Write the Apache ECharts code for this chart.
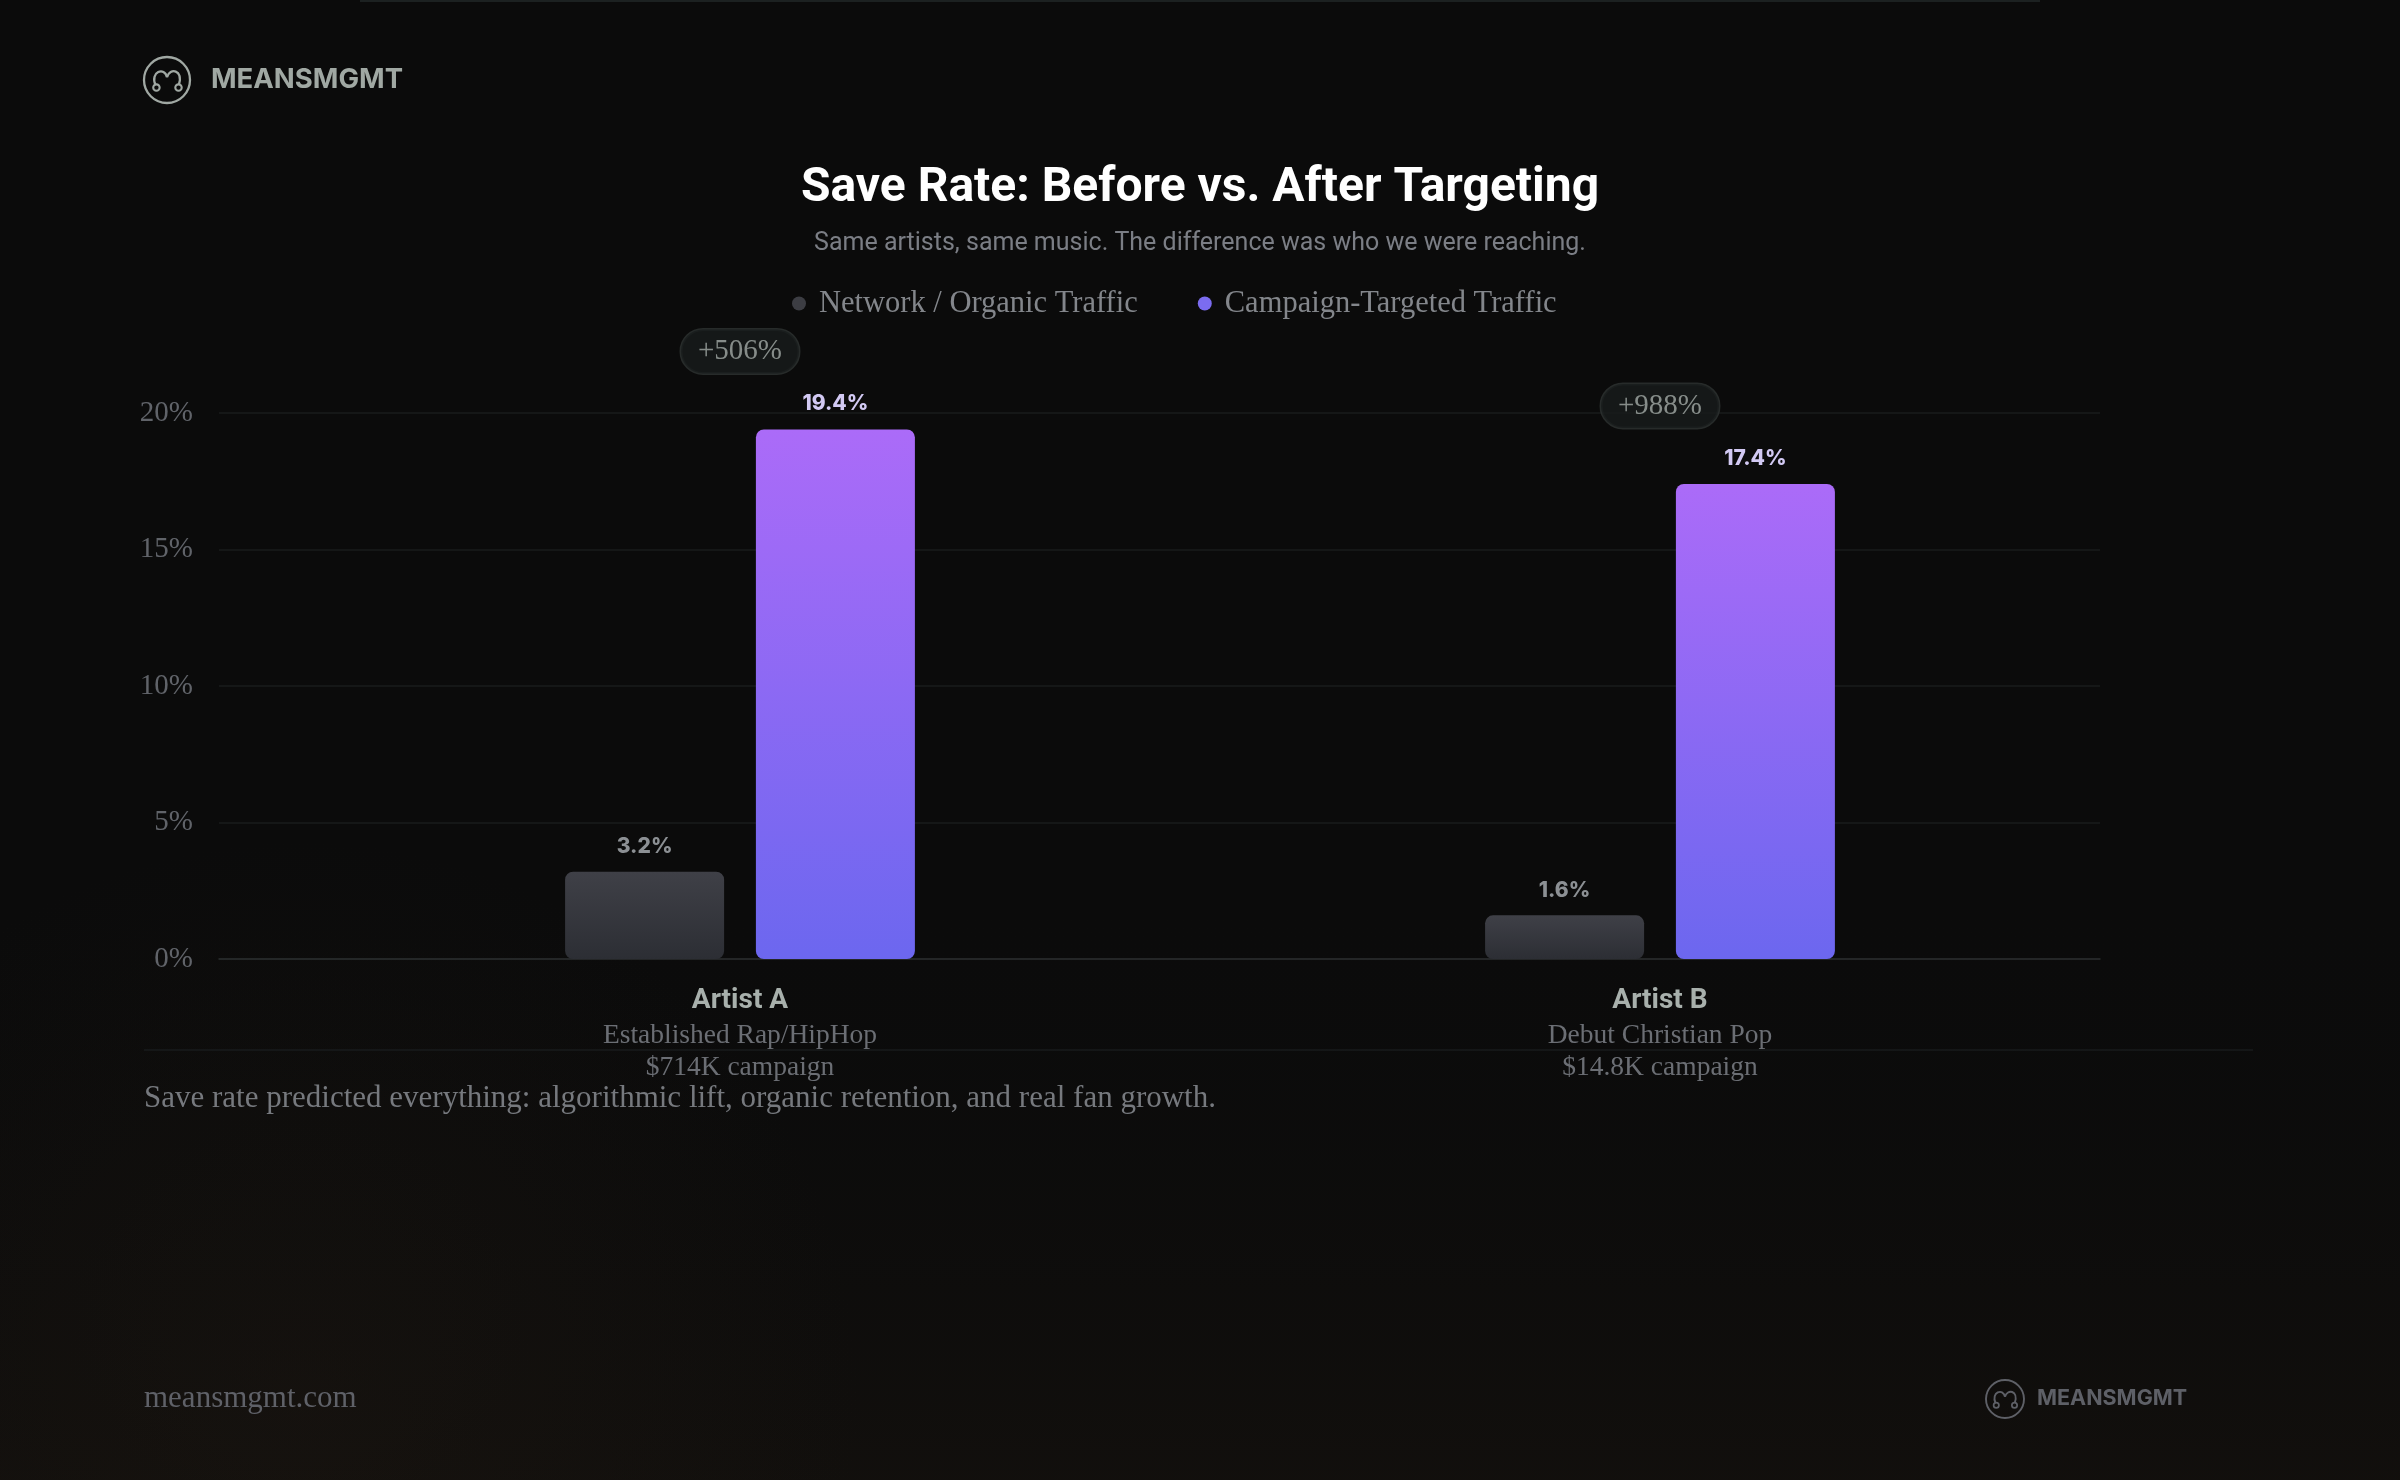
<!DOCTYPE html>
<html>
<head>
<meta charset="utf-8">
<script src="https://cdn.jsdelivr.net/npm/echarts@6/dist/echarts.min.js"></script>
<style>
html,body{margin:0;padding:0;background:#0b0b0b;}
#chart{width:2400px;height:1480px;}
</style>
</head>
<body>
<div id="chart"></div>
<script>
// ---- data ----
const categories = ['Artist A', 'Artist B'];
const genres = ['Established Rap/HipHop', 'Debut Christian Pop'];
const budgets = ['$714K campaign', '$14.8K campaign'];
const seriesNames = ['Network / Organic Traffic', 'Campaign-Targeted Traffic'];
const organicValues = [3.2, 1.6];
const campaignValues = [19.4, 17.4];
const liftLabels = ['+506%', '+988%'];
const yMin = 0, yMax = 20, yStep = 5;

const SERIF = '"Liberation Serif", "DejaVu Serif", serif';
const SANS = 'Roboto, "Noto Sans", sans-serif';
const GEO = 'Inter, Roboto, sans-serif';

const chart = echarts.init(document.getElementById('chart'), null, {renderer: 'canvas'});

const gridTop = 413, gridBottom = 1480 - 959;

function logo(x, y, r, color, fontSize, textX) {
  const lw = Math.max(1.5, r * 0.1);
  return {
    type: 'group', x: x, y: y, silent: true,
    children: [
      {type: 'circle', shape: {cx: 0, cy: 0, r: r}, style: {fill: 'none', stroke: color, lineWidth: lw}},
      {type: 'bezierCurve', shape: {x1: -0.5*r, y1: 0.22*r, cpx1: -0.75*r, cpy1: -0.35*r, cpx2: -0.1*r, cpy2: -0.6*r, x2: 0, y2: -0.12*r},
        style: {fill: 'none', stroke: color, lineWidth: lw}},
      {type: 'bezierCurve', shape: {x1: 0, y1: -0.12*r, cpx1: 0.12*r, cpy1: -0.55*r, cpx2: 0.72*r, cpy2: -0.45*r, x2: 0.52*r, y2: 0.18*r},
        style: {fill: 'none', stroke: color, lineWidth: lw}},
      {type: 'circle', shape: {cx: -0.46*r, cy: 0.33*r, r: 0.14*r}, style: {fill: 'none', stroke: color, lineWidth: lw*0.9}},
      {type: 'circle', shape: {cx: 0.5*r, cy: 0.33*r, r: 0.14*r}, style: {fill: 'none', stroke: color, lineWidth: lw*0.9}},
      {type: 'text', x: textX, y: 0, style: {text: 'MEANSMGMT', fill: color, font: '700 ' + fontSize + 'px ' + GEO, textVerticalAlign: 'middle', textAlign: 'left'}}
    ]
  };
}

const option = {
  backgroundColor: '#0b0b0b',
  animation: false,
  title: [
    {text: 'Save Rate: Before vs. After Targeting', left: 'center', top: 158,
      textStyle: {color: '#ffffff', fontFamily: SANS, fontWeight: 700, fontSize: 48, lineHeight: 52}},
    {text: 'Same artists, same music. The difference was who we were reaching.', left: 'center', top: 224,
      textStyle: {color: '#7b7e85', fontFamily: SANS, fontWeight: 400, fontSize: 25, lineHeight: 30}}
  ],
  legend: {
    left: 792, top: 288, padding: 0, itemGap: 60, itemWidth: 14, itemHeight: 14, icon: 'circle',
    textStyle: {color: '#83868b', fontFamily: SERIF, fontSize: 30.5, lineHeight: 30, padding: [0, 0, 0, 8]},
    data: [
      {name: seriesNames[0], itemStyle: {color: '#3c3d43'}},
      {name: seriesNames[1], itemStyle: {color: '#7b6cf0'}}
    ]
  },
  grid: [
    {left: 219, right: 300, top: gridTop, bottom: gridBottom},
    {left: 280, right: 280, top: gridTop, bottom: gridBottom}
  ],
  xAxis: [
    {type: 'category', gridIndex: 0, data: [''], axisLine: {show: true, lineStyle: {color: '#2a2d2e', width: 1.5}},
      axisTick: {show: false}, axisLabel: {show: false}, splitLine: {show: false}},
    {type: 'category', gridIndex: 1, data: categories, axisLine: {show: false}, axisTick: {show: false},
      axisLabel: {
        margin: 23,
        formatter: function (v, i) { return '{a|' + v + '}\n{b|' + genres[i] + '}\n{b|' + budgets[i] + '}'; },
        rich: {
          a: {color: '#a8b0ac', fontFamily: SANS, fontWeight: 700, fontSize: 28, lineHeight: 38, align: 'center'},
          b: {color: '#6b6e74', fontFamily: SERIF, fontSize: 27.5, lineHeight: 32, align: 'center'}
        }
      }}
  ],
  yAxis: [
    {type: 'value', gridIndex: 0, min: yMin, max: yMax, interval: yStep,
      axisLine: {show: false}, axisTick: {show: false},
      axisLabel: {formatter: '{value}%', color: '#606369', fontFamily: SERIF, fontSize: 29, margin: 26},
      splitLine: {lineStyle: {color: '#1a1d1d', width: 1.5}}},
    {type: 'value', gridIndex: 1, min: yMin, max: yMax, interval: yStep, show: false, splitLine: {show: false}}
  ],
  series: [
    {
      name: seriesNames[0], type: 'bar', xAxisIndex: 1, yAxisIndex: 1, data: organicValues,
      barWidth: 159, barGap: '20%',
      itemStyle: {
        borderRadius: 8,
        color: new echarts.graphic.LinearGradient(0, 0, 0, 1, [
          {offset: 0, color: '#3f4047'}, {offset: 1, color: '#2c2e34'}])
      },
      label: {show: true, position: 'top', distance: 14, formatter: '{c}%',
        color: '#8c9094', fontFamily: GEO, fontWeight: 800, fontSize: 21}
    },
    {
      name: seriesNames[1], type: 'bar', xAxisIndex: 1, yAxisIndex: 1, data: campaignValues,
      barWidth: 159, barGap: '20%',
      itemStyle: {
        borderRadius: 8,
        color: new echarts.graphic.LinearGradient(0, 0, 0, 1, [
          {offset: 0, color: '#ab6bf8'}, {offset: 1, color: '#6c67ef'}])
      },
      label: {show: true, position: 'top', distance: 15, formatter: '{c}%',
        color: '#d2c9f3', fontFamily: GEO, fontWeight: 800, fontSize: 21}
    },
    {
      name: 'lift', type: 'scatter', xAxisIndex: 1, yAxisIndex: 1, data: campaignValues,
      symbolSize: 0, silent: true, legendHoverLink: false, z: 5,
      label: {show: true, position: 'inside', offset: [0, -78],
        formatter: function (p) { return liftLabels[p.dataIndex]; },
        color: '#a2aaa6', fontFamily: SERIF, fontSize: 29, lineHeight: 26,
        backgroundColor: '#181b1b', borderColor: '#2e3332', borderWidth: 1.5, borderRadius: 22,
        padding: [9, 17]}
    }
  ],
  graphic: [
    {type: 'rect', z: -10, silent: true, shape: {x: 0, y: 0, width: 2400, height: 1480},
      style: {fill: new echarts.graphic.LinearGradient(0, 0, 0, 1, [
        {offset: 0, color: 'rgba(11,11,11,0)'}, {offset: 0.6, color: 'rgba(11,11,11,0)'}, {offset: 1, color: 'rgba(22,18,14,0.6)'}])}},
    {type: 'circle', z: -9, silent: true, shape: {cx: 300, cy: 1400, r: 560},
      style: {fill: new echarts.graphic.RadialGradient(0.5, 0.5, 0.5, [
        {offset: 0, color: 'rgba(30,24,18,0.35)'}, {offset: 1, color: 'rgba(30,24,18,0)'}])}},
    {type: 'line', silent: true, shape: {x1: 360, y1: 1, x2: 2040, y2: 1}, style: {stroke: '#1c2121', lineWidth: 2}},
    {type: 'line', silent: true, shape: {x1: 144, y1: 1050, x2: 2253, y2: 1050}, style: {stroke: '#191b1d', lineWidth: 1.5}},
    logo(167, 80, 23, '#a0a8a3', 27.5, 44),
    {type: 'text', x: 144, y: 1099, silent: true,
      style: {text: 'Save rate predicted everything: algorithmic lift, organic retention, and real fan growth.',
        fill: '#76797e', font: '31px ' + SERIF, textVerticalAlign: 'middle'}},
    {type: 'text', x: 144, y: 1399, silent: true,
      style: {text: 'meansmgmt.com', fill: '#5f6168', font: '31px ' + SERIF, textVerticalAlign: 'middle'}},
    logo(2005, 1399, 19, '#5e6067', 21.5, 32)
  ]
};
chart.setOption(option);
</script>
</body>
</html>
